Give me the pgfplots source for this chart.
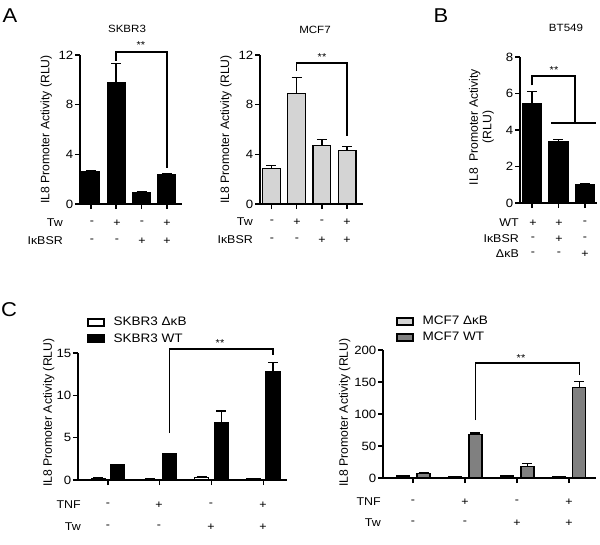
\documentclass[border=0pt]{standalone}
\usepackage{fontspec}
\setmainfont{Liberation Sans}
\usepackage{graphicx}
\usepackage{pgfplots}
\pgfplotsset{compat=1.18}

\definecolor{lg}{gray}{0.83}
\definecolor{dg}{gray}{0.50}
\newcommand{\hs}[1]{\scalebox{1.1}[1]{#1}}

\pgfplotsset{
 prism/.style={
  scale only axis, anchor=south west,
  axis x line*=bottom, axis y line*=left,
  axis line style={line width=1.6pt,-},
  tick style={line width=1.4pt, black},
  major tick length=5pt, tick align=outside,
  enlargelimits=false, ymin=0, clip=false,
  xticklabels={{},{},{},{}},
  /pgf/number format/assume math mode=true,
  yticklabel={\hs{\pgfmathprintnumber{\tick}}},
  yticklabel style={font=\fontsize{12}{14}\selectfont, inner xsep=1.5pt},
  ylabel style={font=\fontsize{12.2}{13.5}\selectfont, anchor=center, align=center},
 },
 pbar/.style={ybar, bar width=#1, draw=black, line width=1.2pt,
   error bars/y dir=plus, error bars/y explicit,
   error bars/error mark=|,
   error bars/error bar style={line width=1.5pt, black},
   error bars/error mark options={line width=1.5pt, mark size=5pt, black}},
 lgd/.style={legend style={at={(axis description cs:#1)}, anchor=north west,
    draw=none, fill=none, font=\fontsize{12.3}{14}\selectfont, row sep=4pt,
    inner sep=0pt, nodes={inner sep=1pt},
    /tikz/every odd column/.append style={column sep=8pt}},
  legend cell align=left},
}
\newcommand{\T}[4][]{\node[font=\fontsize{11.3}{13}\selectfont, inner sep=0pt, #1] at (#2pt,-#3pt) {\hs{#4}};}
\newcommand{\limg}[1]{\addlegendimage{legend image code/.code={\draw[fill=#1,draw=black,line width=1.4pt] (0pt,-3.5pt) rectangle (16pt,3.5pt);}}}

\begin{document}
\begin{tikzpicture}
\path[use as bounding box] (0pt,0pt) rectangle (600pt,-544pt);

% ---------- Panel A: SKBR3 ----------
\begin{axis}[prism, at={(80pt,-204pt)}, width=102pt, height=149pt,
  xmin=-0.43, xmax=3.6, ymax=12, ytick={0,4,8,12}, xtick={0,1,2,3},
  ylabel={IL8 Promoter Activity (RLU)},
  ylabel style={at={(axis description cs:-0.33,0.5)}}]
\addplot[pbar=0.7, fill=black] coordinates {
 (0,2.6) +- (0,0.1) (1,9.8) +- (0,1.5) (2,0.95) +- (0,0.05) (3,2.35) +- (0,0.08)};
\draw[line width=1.5pt] (axis cs:1,11.5) -- (axis cs:1,12.25) -- (axis cs:3,12.25) -- (axis cs:3,2.9);
\end{axis}

% ---------- Panel A: MCF7 ----------
\begin{axis}[prism, at={(260pt,-204pt)}, width=103pt, height=149pt,
  xmin=-0.45, xmax=3.63, ymax=12, ytick={0,4,8,12}, xtick={0,1,2,3},
  ylabel={IL8 Promoter Activity (RLU)},
  ylabel style={at={(axis description cs:-0.33,0.5)}}]
\addplot[pbar=0.7, fill=lg] coordinates {
 (0,2.85) +- (0,0.25) (1,8.9) +- (0,1.3) (2,4.7) +- (0,0.5) (3,4.3) +- (0,0.35)};
\draw[line width=1.5pt] (axis cs:1,10.7) -- (axis cs:1,11.36) -- (axis cs:3,11.36) -- (axis cs:3,5.5);
\end{axis}

% ---------- Panel B: BT549 ----------
\begin{axis}[prism, at={(520pt,-203pt)}, width=77pt, height=146pt,
  xmin=-0.45, xmax=2.46, ymax=8, ytick={0,2,4,6,8}, xtick={0,1,2},
  xticklabels={{},{},{}},
  ylabel={IL8~~Promoter Activity\\(RLU)},
  ylabel style={at={(axis description cs:-0.5,0.52)}}]
\addplot[pbar=0.73, fill=black] coordinates {
 (0,5.45) +- (0,0.65) (1,3.35) +- (0,0.12) (2,1.0) +- (0,0.03)};
\draw[line width=1.5pt] (axis cs:0,6.45) -- (axis cs:0,6.96) -- (axis cs:1.62,6.96) -- (axis cs:1.62,4.38);
\draw[line width=1.5pt] (axis cs:0.73,4.38) -- (axis cs:2.42,4.38);
\end{axis}

% ---------- Panel C: SKBR3 ----------
\begin{axis}[prism, at={(78pt,-480pt)}, width=209pt, height=127pt,
  xmin=-0.58, xmax=3.46, ymax=15, ytick={0,5,10,15}, xtick={0,1,2,3},
  ylabel={IL8 Promoter Activity (RLU)},
  ylabel style={at={(axis description cs:-0.14,0.53)}},
  lgd={0.043,1.29}]
\limg{white}\addlegendentry{\hs{SKBR3 ΔκB}}
\limg{black}\addlegendentry{\hs{SKBR3 WT}}
\addplot[pbar=0.27, fill=white, forget plot] coordinates {
 (-0.19,0.2) +- (0,0.02) (0.81,0.08) +- (0,0.01) (1.81,0.3) +- (0,0.03) (2.81,0.12) +- (0,0.01)};
\addplot[pbar=0.27, fill=black, forget plot] coordinates {
 (0.19,1.8) +- (0,0.05) (1.19,3.1) +- (0,0.05) (2.19,6.8) +- (0,1.35) (3.19,12.8) +- (0,1.05)};
\draw[line width=1.5pt] (axis cs:1.19,5.55) -- (axis cs:1.19,15.5) -- (axis cs:3.19,15.5) -- (axis cs:3.19,14.8);
\end{axis}

% ---------- Panel C: MCF7 ----------
\begin{axis}[prism, at={(383pt,-478pt)}, width=213pt, height=128pt,
  xmin=-0.58, xmax=3.52, ymax=200, ytick={0,50,100,150,200}, xtick={0,1,2,3},
  ylabel={IL8 Promoter Activity (RLU)},
  ylabel style={at={(axis description cs:-0.18,0.51)}},
  lgd={0.061,1.273}]
\limg{lg}\addlegendentry{\hs{MCF7 ΔκB}}
\limg{dg}\addlegendentry{\hs{MCF7 WT}}
\addplot[pbar=0.25, fill=lg, forget plot] coordinates {
 (-0.2,3) +- (0,0.4) (0.8,1.5) +- (0,0.3) (1.8,3) +- (0,0.4) (2.8,1.5) +- (0,0.3)};
\addplot[pbar=0.25, fill=dg, forget plot] coordinates {
 (0.2,6.5) +- (0,1) (1.2,68) +- (0,2) (2.2,18) +- (0,5) (3.2,141) +- (0,10)};
\draw[line width=1.5pt] (axis cs:1.2,90.6) -- (axis cs:1.2,180) -- (axis cs:3.2,180) -- (axis cs:3.2,161);
\end{axis}

% ---------- panel letters and titles ----------
\T[font=\fontsize{20}{22}\selectfont]{10}{16}{A}
\T[font=\fontsize{20}{22}\selectfont]{441}{16}{B}
\T[font=\fontsize{20}{22}\selectfont]{9}{310}{C}
\T[font=\fontsize{10.5}{12}\selectfont]{127}{29}{SKBR3}
\T[font=\fontsize{10.5}{12}\selectfont]{315}{30}{MCF7}
\T[font=\fontsize{10.5}{12}\selectfont]{566}{28}{BT549}
\T[font=\fontsize{10}{12}\selectfont]{141}{45}{**}
\T[font=\fontsize{10}{12}\selectfont]{322}{57}{**}
\T[font=\fontsize{10}{12}\selectfont]{554}{70}{**}
\T[font=\fontsize{10}{12}\selectfont]{220}{343}{**}
\T[font=\fontsize{10}{12}\selectfont]{521}{358}{**}

% ---------- row labels A SKBR3 ----------
\T[anchor=east]{63}{223}{Tw}
\T[anchor=east]{63}{241}{IκBSR}
\T{92}{223}{-}\T{117}{223}{+}\T{142}{223}{-}\T{167}{223}{+}
\T{92}{241}{-}\T{117}{241}{-}\T{142}{241}{+}\T{167}{241}{+}
% ---------- row labels A MCF7 ----------
\T[anchor=east]{253}{222}{Tw}
\T[anchor=east]{253}{240}{IκBSR}
\T{272}{222}{-}\T{297}{222}{+}\T{322}{222}{-}\T{347}{222}{+}
\T{272}{240}{-}\T{297}{240}{-}\T{322}{240}{+}\T{347}{240}{+}
% ---------- row labels B ----------
\T[anchor=east]{519}{223}{WT}
\T[anchor=east]{519}{239}{IκBSR}
\T[anchor=east]{519}{254}{ΔκB}
\T{533}{223}{+}\T{559}{223}{+}\T{585}{223}{-}
\T{533}{239}{-}\T{559}{239}{+}\T{585}{239}{-}
\T{533}{254}{-}\T{559}{254}{-}\T{585}{254}{+}
% ---------- row labels C SKBR3 ----------
\T[anchor=east]{81}{505}{TNF}
\T[anchor=east]{81}{527}{Tw}
\T{108}{505}{-}\T{159}{505}{+}\T{211}{505}{-}\T{263}{505}{+}
\T{108}{527}{-}\T{159}{527}{-}\T{211}{527}{+}\T{263}{527}{+}
% ---------- row labels C MCF7 ----------
\T[anchor=east]{381}{502}{TNF}
\T[anchor=east]{381}{523}{Tw}
\T{413}{502}{-}\T{465}{502}{+}\T{517}{502}{-}\T{569}{502}{+}
\T{413}{523}{-}\T{465}{523}{-}\T{517}{523}{+}\T{569}{523}{+}
\end{tikzpicture}
\end{document}
